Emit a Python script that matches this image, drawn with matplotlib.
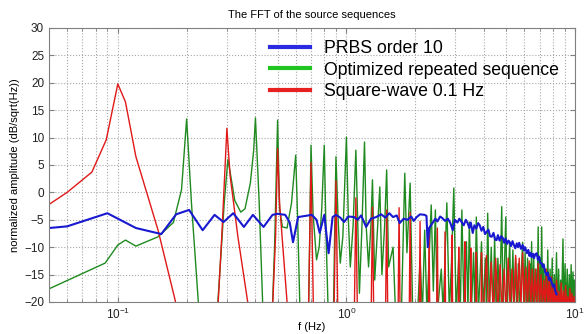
import matplotlib
matplotlib.use('Agg')
import matplotlib.pyplot as plt
from matplotlib.lines import Line2D

plt.rcParams['font.family'] = ['Liberation Sans', 'DejaVu Sans']

# PRBS order 10 (blue)
blue_f = [0.05, 0.06, 0.09, 0.12, 0.155, 0.18, 0.205, 0.235, 0.265, 0.29, 0.32, 0.356,
          0.39, 0.434, 0.475, 0.5, 0.54, 0.565, 0.584, 0.615, 0.66, 0.706, 0.74, 0.764,
          0.80, 0.836, 0.87, 0.90, 0.94, 0.977, 1.02, 1.08, 1.12, 1.16, 1.22, 1.28, 1.35,
          1.42, 1.48, 1.54, 1.6, 1.66, 1.71, 1.78, 1.85, 1.92, 1.97, 2.03, 2.1, 2.2, 2.24,
          2.27, 2.3, 2.38, 2.45, 2.5, 2.57, 2.63, 2.7, 2.78, 2.85, 2.92, 2.98, 3.06, 3.12,
          3.19, 3.26, 3.33, 3.39, 3.45, 3.5, 3.57, 3.63, 3.7, 3.77, 3.83, 3.9, 3.97, 4.04,
          4.11, 4.18, 4.25, 4.32, 4.4, 4.47, 4.54, 4.6, 4.68, 4.75, 4.83, 4.9, 4.97, 5.05,
          5.12, 5.18, 5.25, 5.33, 5.4, 5.48, 5.56, 5.63, 5.7, 5.8, 5.9, 5.98, 6.05, 6.16,
          6.25, 6.32, 6.4, 6.46, 6.55, 6.62, 6.7, 6.8, 6.88, 6.97, 7.05, 7.15, 7.22, 7.3,
          7.4, 7.52, 7.6, 7.7, 7.8, 7.9, 8.0, 8.1, 8.2, 8.3]
blue_db = [-6.5, -6.2, -3.8, -6.5, -7.6, -4.0, -3.2, -6.9, -4.1, -5.4, -3.8, -6.3,
           -4.1, -6.3, -4.1, -3.9, -4.1, -5.5, -9.1, -4.5, -4.3, -4.1, -5.0, -7.4,
           -4.1, -11.1, -4.5, -4.1, -4.6, -5.4, -4.4, -4.5, -5.0, -4.2, -6.3, -4.8, -4.5,
           -4.0, -4.6, -3.8, -4.5, -4.2, -5.6, -4.8, -5.0, -4.4, -5.2, -4.5, -4.0, -4.1, -4.3,
           -10.0, -6.5, -5.6, -4.8, -5.3, -4.4, -4.7, -5.2, -4.8, -5.6, -6.9, -5.0, -5.5, -4.8,
           -5.4, -6.0, -5.0, -5.6, -6.5, -5.5, -7.4, -6.0, -6.6, -5.6, -6.0, -7.0, -6.3, -7.6,
           -7.2, -6.8, -8.0, -8.1, -7.4, -8.6, -8.7, -7.8, -8.8, -8.0, -8.3, -9.2, -8.4, -9.4,
           -8.8, -9.1, -9.8, -8.9, -9.6, -10.2, -9.3, -10.0, -9.2, -10.3, -9.6, -10.6, -10.0, -11.1,
           -10.5, -11.6, -11.0, -11.8, -11.2, -12.0, -11.3, -11.1, -12.3, -11.7, -12.9, -12.9, -13.6, -13.2,
           -14.5, -15.1, -14.6, -16.0, -15.6, -16.4, -17.2, -16.8, -18.0, -18.6]

# Optimized repeated sequence (green)
green_f = [0.05, 0.088, 0.1, 0.108, 0.12, 0.15, 0.175, 0.19, 0.2, 0.21, 0.225, 0.232,
           0.268, 0.28, 0.292, 0.303, 0.31, 0.325, 0.345, 0.36, 0.38, 0.393, 0.4, 0.415, 0.43, 0.437,
           0.47, 0.485, 0.5, 0.51, 0.525, 0.55, 0.575, 0.6, 0.612, 0.625, 0.632,
           0.68, 0.69, 0.7, 0.715, 0.74, 0.76, 0.78, 0.8, 0.815, 0.83, 0.84,
           0.875, 0.888, 0.9, 0.92, 0.94, 0.965, 1.0, 1.02, 1.04, 1.07, 1.1, 1.12, 1.14,
           1.17, 1.2, 1.22, 1.25, 1.28, 1.3, 1.33, 1.37, 1.4, 1.43, 1.47, 1.5, 1.53, 1.6,
           1.64, 1.74, 1.8, 1.84, 1.9, 1.95, 2.05, 2.1, 2.15, 2.2, 2.25, 2.35, 2.4, 2.45,
           2.5, 2.6, 2.65, 2.75, 2.82, 2.88, 2.95, 3.02, 3.1, 3.15, 3.2, 3.27, 3.35, 3.4,
           3.45, 3.52, 3.6, 3.65, 3.7, 3.78, 3.9, 3.97, 4.05, 4.1, 4.15, 4.22, 4.3, 4.38,
           4.45, 4.52, 4.6, 4.68, 4.78, 4.85, 4.98, 5.05, 5.18, 5.25, 5.35, 5.42, 5.5, 5.57,
           5.65, 5.72, 5.9, 5.97, 6.05, 6.12, 6.2, 6.28, 6.35, 6.4, 6.46, 6.52, 6.6, 6.66,
           6.75, 6.82, 6.9, 6.96, 7.05, 7.1, 7.15, 7.22, 7.3, 7.36, 7.45, 7.52, 7.6, 7.68,
           7.78, 7.85, 7.95, 8.02, 8.12, 8.2, 8.3, 8.38, 8.48, 8.55, 8.65, 8.72, 8.86, 8.93,
           9.05, 9.12, 9.25, 9.32, 9.45, 9.52, 9.62, 9.7, 9.8, 9.88, 9.95, 10.0]
green_db = [-17.6, -12.9, -9.6, -8.7, -9.8, -8.1, -5.5, 0.5, 13.4, -2.0, -20.0, -26.0,
            -26.0, -14.0, -2.0, 6.0, 3.7, -1.5, -3.6, -3.0, 1.7, 7.7, 13.6, -1.5, -20.0, -26.0,
            -26.0, -10.0, 13.2, -3.0, -6.3, -6.5, -2.0, 6.8, -5.0, -20.0, -26.0,
            -26.0, -10.0, 8.6, -4.0, -12.3, -10.0, -3.0, 8.6, -8.0, -20.0, -26.0,
            -26.0, -8.0, 6.5, -5.0, -12.9, -8.0, 10.1, -5.0, -13.6, -6.0, 7.7, -5.0, -18.4,
            -6.0, 9.2, -6.0, -13.6, -6.0, 2.3, -16.0, -6.0, 1.0, -15.0, -6.0, 4.1, -13.6, -10.0,
            -22.0, -22.0, 3.5, -11.0, 1.7, -22.0, -22.0, -12.0, -22.0, -6.9, -22.0, -2.3, -18.0, -3.2,
            -22.0, -14.0, -22.0, -1.9, -22.0, -13.0, 0.8, -22.0, -12.0, -22.0, -3.2, -22.0, -9.0, -22.0,
            -5.4, -22.0, -11.0, -22.0, -4.5, -22.0, -9.0, -22.0, -12.0, -22.0, -3.8, -22.0, -10.0, -22.0,
            -8.0, -22.0, -12.0, -22.0, -2.6, -22.0, -4.5, -22.0, -9.0, -22.0, -10.5, -22.0, -12.0, -22.0,
            -13.0, -22.0, -9.1, -22.0, -11.0, -22.0, -12.0, -22.0, -13.0, -22.0, -9.0, -22.0, -12.0, -22.0,
            -14.0, -22.0, -6.3, -22.0, -12.0, -22.0, -6.3, -22.0, -13.0, -22.0, -14.0, -22.0, -10.5, -22.0,
            -14.0, -22.0, -12.0, -22.0, -15.0, -22.0, -11.0, -22.0, -14.0, -22.0, -16.0, -22.0, -8.5, -22.0,
            -13.0, -22.0, -14.0, -22.0, -15.0, -22.0, -13.2, -22.0, -14.5, -22.0, -16.0, -22.0]

# Square-wave 0.1 Hz (red)
red_f = [0.05, 0.06, 0.077, 0.089, 0.1, 0.108, 0.12, 0.15, 0.178, 0.19,
         0.27, 0.285, 0.3, 0.31, 0.335, 0.37, 0.38,
         0.47, 0.49, 0.5, 0.51, 0.55, 0.56,
         0.68, 0.7, 0.72, 0.88, 0.9, 0.92, 1.08, 1.1, 1.12, 1.28, 1.3, 1.32,
         1.48, 1.5, 1.52, 1.68, 1.7, 1.72, 1.88, 1.9, 1.92, 2.08, 2.1, 2.12,
         2.28, 2.3, 2.32, 2.48, 2.5, 2.52, 2.68, 2.7, 2.72, 2.88, 2.9, 2.92,
         3.08, 3.1, 3.12, 3.28, 3.3, 3.32, 3.48, 3.5, 3.52, 3.68, 3.7, 3.72,
         3.88, 3.9, 3.92, 4.1, 4.2, 4.3, 4.4, 4.5, 4.6, 4.7, 4.8, 4.9, 5.0,
         5.1, 5.2, 5.3, 5.4, 5.5, 5.6, 5.7, 5.8, 5.9, 6.0, 6.1, 6.2, 6.3, 6.4,
         6.5, 6.6, 6.7, 6.8, 6.9, 7.0, 7.1, 7.2, 7.3, 7.4, 7.5, 7.6, 7.7, 7.8,
         7.9, 8.0, 8.1, 8.2, 8.3, 8.4, 8.5, 8.6, 8.7, 8.8, 8.9, 9.0, 9.1, 9.2,
         9.3, 9.4, 9.5, 9.6, 9.7, 9.8, 9.9, 10.0]
red_db = [-2.2, 0.0, 3.7, 9.6, 19.8, 16.5, 6.5, -6.9, -19.6, -26.0,
          -26.0, -8.0, 11.7, 3.0, -8.0, -20.0, -26.0,
          -26.0, -8.0, 8.0, -2.0, -20.0, -26.0,
          -26.0, 5.4, -26.0, -26.0, 2.1, -26.0, -26.0, -1.0, -26.0, -26.0, -2.7, -26.0,
          -26.0, -3.2, -26.0, -26.0, -2.8, -26.0, -26.0, -3.6, -26.0, -26.0, -5.3, -26.0,
          -26.0, -7.0, -26.0, -26.0, -6.5, -26.0, -26.0, -7.2, -26.0, -26.0, -7.8, -26.0,
          -26.0, -10.0, -26.0, -26.0, -9.0, -26.0, -26.0, -10.2, -26.0, -26.0, -10.9, -26.0,
          -26.0, -11.0, -26.0, -11.5, -24.0, -12.7, -23.0, -12.0, -22.0, -13.2, -22.0, -14.0, -22.0,
          -12.0, -21.0, -14.0, -21.0, -11.5, -21.0, -12.0, -21.0, -11.0, -21.0, -13.6, -21.0, -12.5, -21.0,
          -14.0, -21.0, -14.0, -21.0, -13.0, -21.0, -15.0, -21.0, -16.0, -21.0, -14.0, -22.0, -15.0, -22.0,
          -15.4, -22.0, -17.0, -22.0, -16.0, -22.0, -18.0, -22.0, -16.5, -22.0, -18.0, -22.0, -17.0, -22.0,
          -19.0, -22.0, -17.5, -22.0, -18.4, -22.0, -19.0, -22.0]

labels = ['PRBS order 10', 'Optimized repeated sequence', 'Square-wave 0.1 Hz']

fig = plt.figure(figsize=(5.85, 3.34), dpi=100)
ax = fig.add_axes([49/585, 32/334, 526/585, 274/334])

ax.plot(green_f, green_db, color='#1f8a1f', lw=1.0)
ax.plot(red_f, red_db, color='#e01818', lw=1.0)
ax.plot(blue_f, blue_db, color='#1818d0', lw=1.5)

ax.set_xscale('log')
ax.set_xlim(0.05, 10)
ax.set_ylim(-20, 30)
ax.set_yticks(range(-20, 31, 5))
ax.grid(True, which='major', ls=':', color='#a8a8a8', lw=0.8)
ax.grid(True, which='minor', axis='x', ls=':', color='#a8a8a8', lw=0.8)
ax.tick_params(which='both', direction='in', top=True, right=True, color='#808080',
               labelsize=8.5, labelcolor='#222222')
for s in ax.spines.values():
    s.set_color('#808080')

ax.set_title('The FFT of the source sequences', fontsize=8, pad=7)
ax.set_xlabel('f (Hz)', fontsize=8, labelpad=0)
ax.set_ylabel('normalized amplitude (dB/sqrt(Hz))', fontsize=8, labelpad=3)

handles = [Line2D([], [], color='#2a2ae0', lw=3),
           Line2D([], [], color='#22c422', lw=3),
           Line2D([], [], color='#e82020', lw=3)]
ax.legend(handles, labels, loc='upper left', bbox_to_anchor=(0.42, 0.957),
          frameon=False, fontsize=12.7, borderpad=0, borderaxespad=0,
          handlelength=2.3, handletextpad=0.75, labelspacing=0.27)

fig.savefig('out.png', dpi=100)
